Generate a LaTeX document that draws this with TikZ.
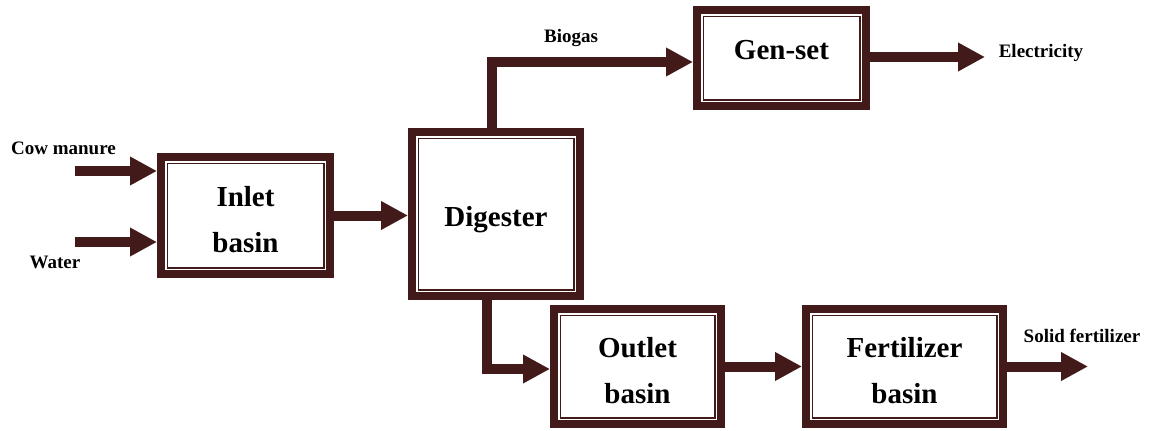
\documentclass[tikz,border=0pt]{standalone}
\usepackage{fontspec}
\setmainfont{Liberation Serif}
\usetikzlibrary{arrows.meta}
\definecolor{brn}{RGB}{66,26,26}
\newcommand\boxtext[2]{\raisebox{#1}[0pt][0pt]{\begin{tabular}{@{}c@{}}#2\end{tabular}}}
\begin{document}
\begin{tikzpicture}[x=1pt,y=-1pt,
  box/.style={draw=brn, line width=8pt, fill=white, inner sep=0pt, align=center,
    font=\bfseries\fontsize{29}{46}\selectfont},
  innerline/.style={draw=brn, line width=1.5pt},
  arr/.style={draw=brn, line width=10pt, -{Triangle[length=27pt,width=27pt]}},
  lbl/.style={font=\bfseries\fontsize{19}{22}\selectfont, inner sep=0pt}]
\useasboundingbox (0,0) rectangle (1154,431);

\node[box, minimum width=169pt, minimum height=117pt] (inlet) at (245.5,215.5) {\boxtext{-11pt}{Inlet\\basin}};
\node[box, minimum width=168pt, minimum height=164pt] (digester) at (496,214) {\boxtext{-10pt}{Digester}};
\node[box, minimum width=169pt, minimum height=96pt] (genset) at (781.5,58) {\boxtext{1pt}{Gen-set}};
\node[box, minimum width=167pt, minimum height=115pt] (outlet) at (637.5,366.5) {\boxtext{-11pt}{Outlet\\basin}};
\node[box, minimum width=197pt, minimum height=115pt] (fert) at (904.5,366.5) {\boxtext{-11pt}{Fertilizer\\basin}};

\foreach \n in {inlet,digester,genset,outlet,fert}
  \draw[innerline] ([shift={(10.25,10.25)}]\n.north west) rectangle ([shift={(-10.25,-10.25)}]\n.south east);

\coordinate (cm) at (75,171);
\coordinate (wa) at (75,242);
\coordinate (el) at (985,57);
\coordinate (sf) at (1088,366.5);

\draw[arr] (cm) -- (cm -| inlet.west);
\draw[arr] (wa) -- (wa -| inlet.west);
\draw[arr] (inlet.east) -- (inlet.east -| digester.west);
\draw[arr] ([xshift=-4pt]digester.north) |- ([yshift=-4pt]genset.west);
\draw[arr] ([xshift=-9pt]digester.south) |- ([yshift=-2.5pt]outlet.west);
\draw[arr] (genset.east |- el) -- (el);
\draw[arr] (outlet.east) -- (fert.west);
\draw[arr] (fert.east) -- (sf);

\node[lbl] (lcm) at (63.5,148) {Cow manure};
\node[lbl] (lwa) at (55,262) {Water};
\node[lbl] (lbg) at (571,38) {Biogas};
\node[lbl] (lel) at (1041,53) {Electricity};
\node[lbl] (lsf) at (1082,336) {Solid fertilizer};
\end{tikzpicture}
\end{document}
